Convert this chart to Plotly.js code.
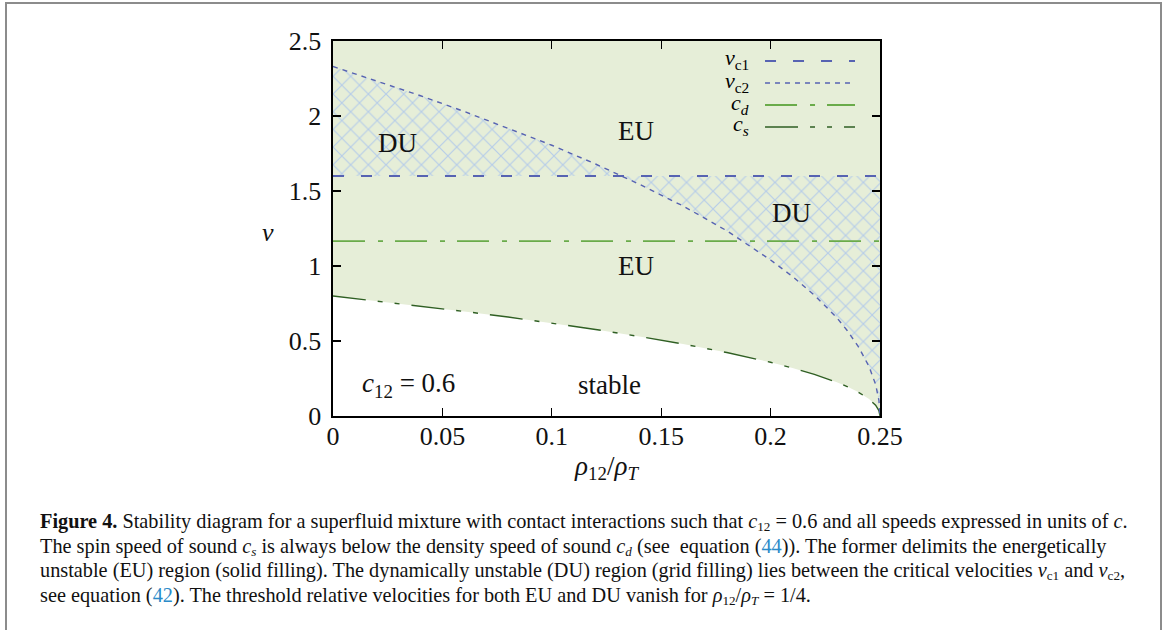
<!DOCTYPE html>
<html>
<head>
<meta charset="utf-8">
<script src="https://cdn.plot.ly/plotly-3.0.1.min.js"></script>
<style>
  html, body { margin:0; padding:0; background:#fff; }
  #wrap { position:relative; width:1165px; height:630px; overflow:hidden; }
  #chart { position:absolute; left:0; top:0; width:1165px; height:630px; }
  #frame { position:absolute; left:5px; top:2px; width:1153px; height:660px;
           border:2px solid #8c8c8c; border-bottom:none; pointer-events:none; }
  #caption { position:absolute; left:40px; top:509px; font-family:"Liberation Serif", serif;
             font-size:18.5px; line-height:24.5px; color:#111; white-space:nowrap; }
  #caption .ln { white-space:nowrap; display:block; }
  #caption .lk { color:#2b8bc9; }
  #caption sub { font-size:65%; line-height:0; vertical-align:-0.25em; }
</style>
</head>
<body>
<div id="wrap">
  <div id="chart"></div>
  <div id="frame"></div>
  <div id="caption">
    <span class="ln" id="ln1"><b>Figure 4.</b> Stability diagram for a superfluid mixture with contact interactions such that <i>c</i><sub>12</sub> = 0.6 and all speeds expressed in units of <i>c</i>.</span>
    <span class="ln">The spin speed of sound <i>c<sub>s</sub></i> is always below the density speed of sound <i>c<sub>d</sub></i> (see&nbsp; equation (<span class="lk">44</span>)). The former delimits the energetically</span>
    <span class="ln">unstable (EU) region (solid filling). The dynamically unstable (DU) region (grid filling) lies between the critical velocities <i>v</i><sub>c1</sub> and <i>v</i><sub>c2</sub>,</span>
    <span class="ln">see equation (<span class="lk">42</span>). The threshold relative velocities for both EU and DU vanish for <i>ρ</i><sub>12</sub>/<i>ρ<sub>T</sub></i> = 1/4.</span>
  </div>
</div>
<script>
// ---- data ----
const rho = [0, 0.02, 0.04, 0.06, 0.08, 0.10, 0.12, 0.14, 0.16, 0.18, 0.20, 0.21, 0.22, 0.23, 0.235, 0.24, 0.245, 0.248, 0.2495, 0.25];
const vc2 = [2.33, 2.235, 2.135, 2.03, 1.92, 1.805, 1.68, 1.545, 1.40, 1.235, 1.04, 0.93, 0.805, 0.66, 0.57, 0.465, 0.33, 0.21, 0.105, 0.0];
const cs  = [0.80, 0.767, 0.733, 0.697, 0.66, 0.62, 0.577, 0.53, 0.48, 0.423, 0.358, 0.32, 0.277, 0.226, 0.196, 0.16, 0.113, 0.072, 0.036, 0.0];
const vc1X = [0, 0.25];
const vc1Y = [1.6, 1.6];
const cdX = [0, 0.25];
const cdY = [1.166, 1.166];
const topX = [0, 0.25];
const topY = [2.5, 2.5];
const xTickVals = [0, 0.05, 0.1, 0.15, 0.2, 0.25];
const xTickText = ['0', '0.05', '0.1', '0.15', '0.2', '0.25'];
const yTickVals = [0, 0.5, 1, 1.5, 2, 2.5];
const yTickText = ['0', '0.5', '1', '1.5', '2', '2.5'];
const seriesNames = ['<i>v</i><sub>c1</sub>', '<i>v</i><sub>c2</sub>', '<i>c<sub>d</sub></i>', '<i>c<sub>s</sub></i>'];

// ---- styles ----
const GREEN_FILL = '#e6eed8';
const HATCH = '#b7cde9';
const BLUE = '#5763b2';
const CD_COL = '#6aab4a';
const CS_COL = '#2f5f23';
const dashVc1 = '11px,17px';
const dashVc2 = '5px,5px';
const dashCd  = '32px,13px,5px,12px';
const dashCs  = '33px,12px,5px,12px,5px,12px';
const FONT = 'Liberation Serif, Times New Roman, serif';

// DU polygon between vc2 and vc1
const hatchX = rho.concat([vc1X[1], vc1X[0]]);
const hatchY = vc2.concat([vc1Y[1], vc1Y[0]]);

const traces = [
  {x: topX, y: topY, mode: 'lines', line: {width: 0, color: 'rgba(0,0,0,0)'}, hoverinfo: 'skip', showlegend: false},
  {x: rho, y: cs, mode: 'lines', fill: 'tonexty', fillcolor: GREEN_FILL,
   line: {color: CS_COL, width: 1.4, dash: dashCs}, name: seriesNames[3], showlegend: false},
  {x: hatchX, y: hatchY, mode: 'lines', fill: 'toself', fillcolor: GREEN_FILL,
   fillpattern: {shape: 'x', fgcolor: HATCH, bgcolor: GREEN_FILL, size: 12.5, solidity: 0.18},
   line: {width: 0, color: 'rgba(0,0,0,0)'}, hoverinfo: 'skip', showlegend: false},
  {x: rho, y: vc2, mode: 'lines', line: {color: BLUE, width: 1.4, dash: dashVc2}, name: seriesNames[1], showlegend: false},
  {x: vc1X, y: vc1Y, mode: 'lines', line: {color: BLUE, width: 2, dash: dashVc1}, name: seriesNames[0], showlegend: false},
  {x: cdX, y: cdY, mode: 'lines', line: {color: CD_COL, width: 1.8, dash: dashCd}, name: seriesNames[2], showlegend: false}
];

// custom legend (text left of sample, as in reference)
const legRowsY = [0.9467, 0.888, 0.8293, 0.7707];
const legCols = [BLUE, BLUE, CD_COL, CS_COL];
const legDash = [dashVc1, dashVc2, dashCd, dashCs];
const legW = [2, 1.4, 1.8, 1.4];
const shapes = [];
const annotations = [];
for (let i = 0; i < seriesNames.length; i++) {
  shapes.push({type: 'line', xref: 'paper', yref: 'paper', x0: 0.7898, x1: 0.9543, y0: legRowsY[i], y1: legRowsY[i],
               line: {color: legCols[i], width: legW[i], dash: legDash[i]}});
  annotations.push({xref: 'paper', yref: 'paper', x: 0.7623, y: legRowsY[i] + 0.004, xanchor: 'right', yanchor: 'middle',
                    text: seriesNames[i], showarrow: false, borderpad: 0,
                    font: {family: FONT, size: 22, color: '#000'}});
}
const lab = (x, y, t) => ({x: x, y: y, xref: 'x', yref: 'y', text: t, showarrow: false,
                            xanchor: 'center', yanchor: 'middle', font: {family: FONT, size: 27, color: '#111'}});
annotations.push(lab(0.0295, 1.82, 'DU'));
annotations.push(lab(0.1386, 1.90, 'EU'));
annotations.push(lab(0.2095, 1.355, 'DU'));
annotations.push(lab(0.1386, 1.0, 'EU'));
annotations.push(lab(0.0345, 0.205, '<i>c</i><sub>12</sub> = 0.6'));
annotations.push(lab(0.1264, 0.21, 'stable'));
annotations.push({xref: 'paper', yref: 'paper', x: -0.119, y: 0.49, text: '<i>v</i>', showarrow: false,
                  xanchor: 'center', yanchor: 'middle', font: {family: FONT, size: 26, color: '#111'}});

const axisCommon = {
  ticks: 'inside', ticklen: 8, tickwidth: 1.2, tickcolor: '#000',
  showline: true, linecolor: '#000', linewidth: 1.6, mirror: 'ticks',
  showgrid: false, zeroline: false, tickfont: {family: FONT, size: 26, color: '#111'}
};

const layout = {
  width: 1165, height: 630,
  margin: {l: 333, r: 285, t: 41, b: 214},
  paper_bgcolor: 'rgba(0,0,0,0)', plot_bgcolor: '#ffffff',
  showlegend: false,
  font: {family: FONT, color: '#111'},
  xaxis: Object.assign({}, axisCommon, {
    range: [0, 0.25], tickmode: 'array', tickvals: xTickVals, ticktext: xTickText, ticklabelstandoff: -4,
    title: {text: '<i>ρ</i><sub>12</sub>/<i>ρ<sub>T</sub></i>', font: {family: FONT, size: 27, color: '#111'}, standoff: 0}
  }),
  yaxis: Object.assign({}, axisCommon, {
    range: [0, 2.5], tickmode: 'array', tickvals: yTickVals, ticktext: yTickText, ticklabelstandoff: 5
  }),
  shapes: shapes,
  annotations: annotations
};

Plotly.newPlot('chart', traces, layout, {staticPlot: true, displayModeBar: false});

// fit caption width to the reference line length
(function () {
  const l1 = document.getElementById('ln1');
  const target = 1088;
  const w = l1.getBoundingClientRect().width;
  if (w > 0) {
    const cap = document.getElementById('caption');
    const fs = 18.5 * target / w;
    cap.style.fontSize = fs.toFixed(2) + 'px';
  }
})();
</script>
</body>
</html>
